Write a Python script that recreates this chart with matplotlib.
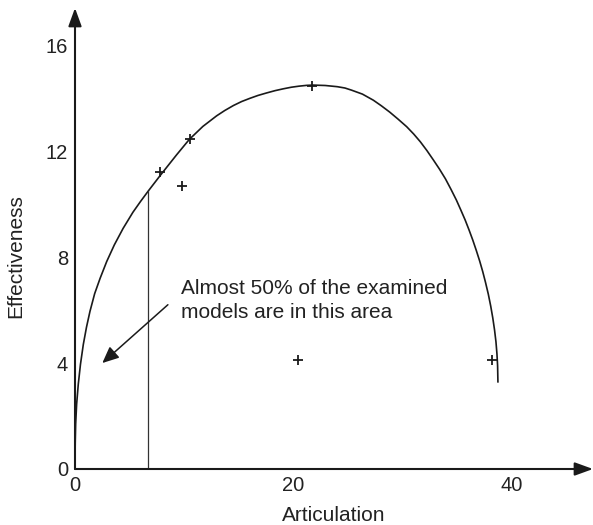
import numpy as np
import matplotlib.pyplot as plt

plt.rcParams['font.family'] = ['Liberation Sans', 'DejaVu Sans']

# fitted curve, effectiveness vs articulation
curve_x = [0.0, 0.005, 0.02, 0.06, 0.15, 0.3, 0.5, 0.76, 1.05, 1.37, 1.8,
           2.3, 2.9, 3.6, 4.4, 5.3, 6.0, 6.7, 7.8, 9.3, 10.46, 11.7, 12.96,
           13.7, 14.5, 15.25, 16.0, 16.75, 17.5, 18.3, 19.06, 19.8, 20.5,
           21.2, 21.8, 22.9, 24.0, 24.7, 25.3, 26.3, 27.3, 28.03, 28.8, 29.55,
           30.35, 31.0, 31.6, 32.2, 32.8, 33.35, 33.9, 34.4, 34.9, 35.3, 35.7,
           36.06, 36.4, 36.72, 37.03, 37.31, 37.56, 37.82, 38.04, 38.23,
           38.39, 38.52, 38.61, 38.67, 38.7]
curve_y = [0.0, 0.45, 1.0, 1.7, 2.45, 3.2, 3.95, 4.7, 5.35, 5.95, 6.62,
           7.2, 7.83, 8.46, 9.08, 9.69, 10.1, 10.49, 11.08, 11.86, 12.44,
           12.93, 13.33, 13.53, 13.72, 13.87, 13.99, 14.1, 14.19, 14.28,
           14.35, 14.41, 14.45, 14.48, 14.49, 14.475, 14.43, 14.38, 14.3,
           14.15, 13.92, 13.71, 13.47, 13.21, 12.92, 12.64, 12.35, 12.02,
           11.66, 11.32, 10.95, 10.56, 10.15, 9.78, 9.4, 9.02, 8.64, 8.25,
           7.85, 7.45, 7.05, 6.6, 6.15, 5.7, 5.25, 4.8, 4.35, 3.9, 3.29]

# examined models
model_x = [7.8, 9.8, 10.5, 21.7, 20.4, 38.2]
model_y = [11.2, 10.7, 12.45, 14.45, 4.1, 4.1]

cut_x = 6.7
cut_y = 10.49

x_ticks = [0, 20, 40]
y_ticks = [0, 4, 8, 12, 16]

fig = plt.figure(figsize=(5.93, 5.25), dpi=100)
ax = fig.add_axes([75 / 593, 56 / 525, 518 / 593, 461 / 525])
ax.set_xlim(0, 47.4)
ax.set_ylim(0, 17.4)
for s in ax.spines.values():
    s.set_visible(False)

ink = '#1a1a1a'
txt = '#222222'
ax.plot(curve_x, curve_y, color=ink, lw=1.2, solid_joinstyle='round')
ax.plot(model_x, model_y, '+', color=ink, ms=7, mew=1.3)
ax.plot([cut_x, cut_x], [0, cut_y], color='#333333', lw=0.9)

# axes with arrow heads
arr = dict(arrowstyle='-|>,head_length=1.1,head_width=0.4', color=ink,
           lw=1.5, shrinkA=0, shrinkB=0)
ax.annotate('', xy=(47.4, 0), xytext=(0, 0), arrowprops=arr,
            annotation_clip=False)
ax.annotate('', xy=(0, 17.4), xytext=(0, 0), arrowprops=arr,
            annotation_clip=False)

ax.set_xticks(x_ticks)
ax.set_yticks(y_ticks)
ax.tick_params(length=0, labelsize=14.5, colors=txt, pad=5)
ax.set_xlabel('Articulation', fontsize=15, color=txt, labelpad=8)
ax.set_ylabel('Effectiveness', fontsize=15, color=txt)
ax.yaxis.set_label_coords(-0.097, 0.462)

ax.text(9.7, 5.55, 'Almost 50% of the examined\nmodels are in this area',
        fontsize=15, color=txt, linespacing=1.3, va='bottom', ha='left')
ax.annotate('', xy=(2.5, 4.0), xytext=(8.5, 6.2),
            arrowprops=dict(arrowstyle='-|>,head_length=1.0,head_width=0.45',
                            color=ink, lw=1.1, shrinkA=0, shrinkB=0))

fig.savefig('out.png', dpi=100)
